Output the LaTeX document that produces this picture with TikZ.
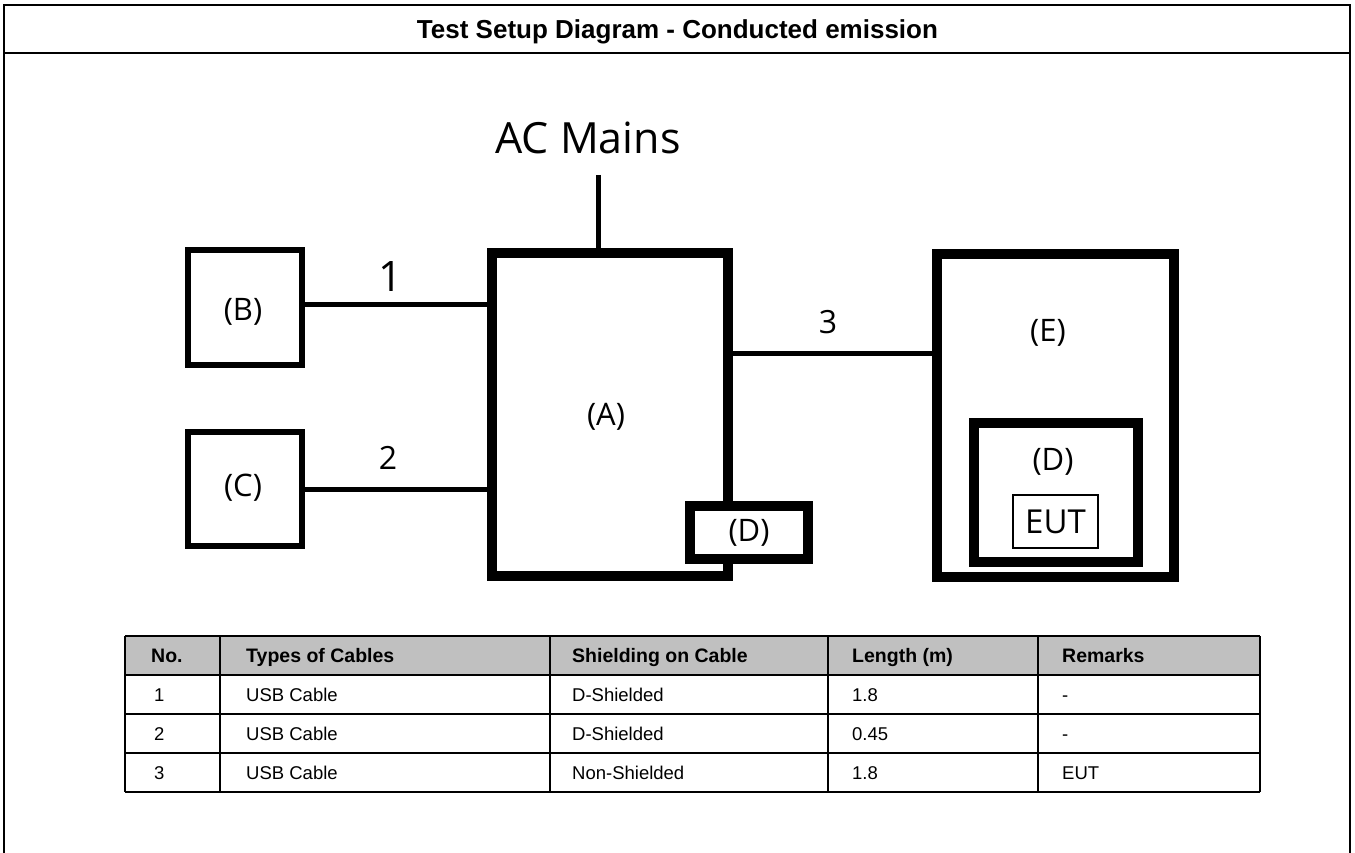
\documentclass[tikz,border=0pt]{standalone}
\usepackage{fontspec}
\setmainfont{Liberation Sans}
\newfontfamily\labfont{Open Sans}
\begin{document}
\begin{tikzpicture}[x=1pt,y=-1pt,
  thinbox/.style={draw, line width=5.5pt, inner sep=0pt, fill=white},
  thickbox/.style={draw, line width=10pt, inner sep=0pt, fill=white},
  cable/.style={line width=5pt},
  lab/.style={font=\labfont\fontsize{31}{36}\selectfont},
  num/.style={font=\labfont\fontsize{32}{38}\selectfont},
  frameline/.style={line width=2.5pt},
  gridline/.style={line width=2pt},
  hdr/.style={anchor=base west, inner sep=0pt, font=\bfseries\fontsize{19.5}{23}\selectfont},
  cell/.style={anchor=base west, inner sep=0pt, font=\fontsize{18.5}{22}\selectfont}]
\useasboundingbox (0,0) rectangle (1355,853);
% outer frame
\draw[frameline] (4,853) -- (4,5) -- (1350,5) -- (1350,853);
\draw[frameline] (4,53) -- (1350,53);
\node[font=\bfseries\fontsize{26}{31}\selectfont, anchor=base, inner sep=0pt] (title) at (677.5,39) {Test Setup Diagram - Conducted emission};
% diagram
\node[thinbox, minimum width=114pt, minimum height=115pt] (B) at (245,307.5) {};
\node[lab] (Blab) at (243,312) {(B)};
\node[thinbox, minimum width=114pt, minimum height=114pt] (C) at (245,489) {};
\node[lab] (Clab) at (243,488) {(C)};
\node[thickbox, minimum width=236pt, minimum height=323pt] (A) at (610,414.5) {};
\node[lab] (Alab) at (606,417) {(A)};
\node[thickbox, minimum width=118pt, minimum height=53pt, lab] (D1) at (749,532.5) {(D)};
\node[thickbox, minimum width=237pt, minimum height=323pt] (E) at (1055.5,415.5) {};
\node[lab] (Elab) at (1048,333) {(E)};
\node[thickbox, minimum width=164pt, minimum height=139pt] (D2) at (1056,492.5) {};
\node[lab] (D2lab) at (1053,462) {(D)};
\node[draw, line width=1.5pt, minimum width=85pt, minimum height=53pt, inner sep=0pt, font=\labfont\fontsize{33}{38}\selectfont] (EUT) at (1055.5,521.5) {EUT};
\node[font=\labfont\fontsize{43}{50}\selectfont] (ACtxt) at (588,138) {AC Mains};
\coordinate (ac) at (598,175);
\coordinate (l1) at (0,304);
\coordinate (l3) at (0,353);
\draw[cable] (ac) -- (ac |- A.north);
\draw[cable] (l1 -| B.east) -- (l1 -| A.west);
\draw[cable] (C.east) -- (C.east -| A.west);
\draw[cable] (l3 -| A.east) -- (l3 -| E.west);
\node[font=\labfont\fontsize{42}{48}\selectfont] (n1) at (391,277) {1};
\node[num] (n2) at (388,457.5) {2};
\node[num] (n3) at (828,322) {3};
% table
\fill[fill={rgb,255:red,192;green,192;blue,192}] (125,636) rectangle (1260,675);
\foreach \yy in {636,675,714,753,792} \draw[gridline] (125,\yy) -- (1260,\yy);
\foreach \xx in {125,220,550,828,1038,1260} \draw[gridline] (\xx,636) -- (\xx,792);
\node[hdr] (h1) at (151,662.5) {No.};
\node[hdr] (h2) at (246,662.5) {Types of Cables};
\node[hdr] (h3) at (572,662.5) {Shielding on Cable};
\node[hdr] (h4) at (852,662.5) {Length (m)};
\node[hdr] (h5) at (1062,662.5) {Remarks};
\node[cell] (r1a) at (154,701) {1};
\node[cell] (r1b) at (246,701) {USB Cable};
\node[cell] (r1c) at (572,701) {D-Shielded};
\node[cell] (r1d) at (852,701) {1.8};
\node[cell] (r1e) at (1062,701) {-};
\node[cell] (r2a) at (154,740) {2};
\node[cell] (r2b) at (246,740) {USB Cable};
\node[cell] (r2c) at (572,740) {D-Shielded};
\node[cell] (r2d) at (852,740) {0.45};
\node[cell] (r2e) at (1062,740) {-};
\node[cell] (r3a) at (154,779) {3};
\node[cell] (r3b) at (246,779) {USB Cable};
\node[cell] (r3c) at (572,779) {Non-Shielded};
\node[cell] (r3d) at (852,779) {1.8};
\node[cell] (r3e) at (1062,779) {EUT};
\end{tikzpicture}
\end{document}
